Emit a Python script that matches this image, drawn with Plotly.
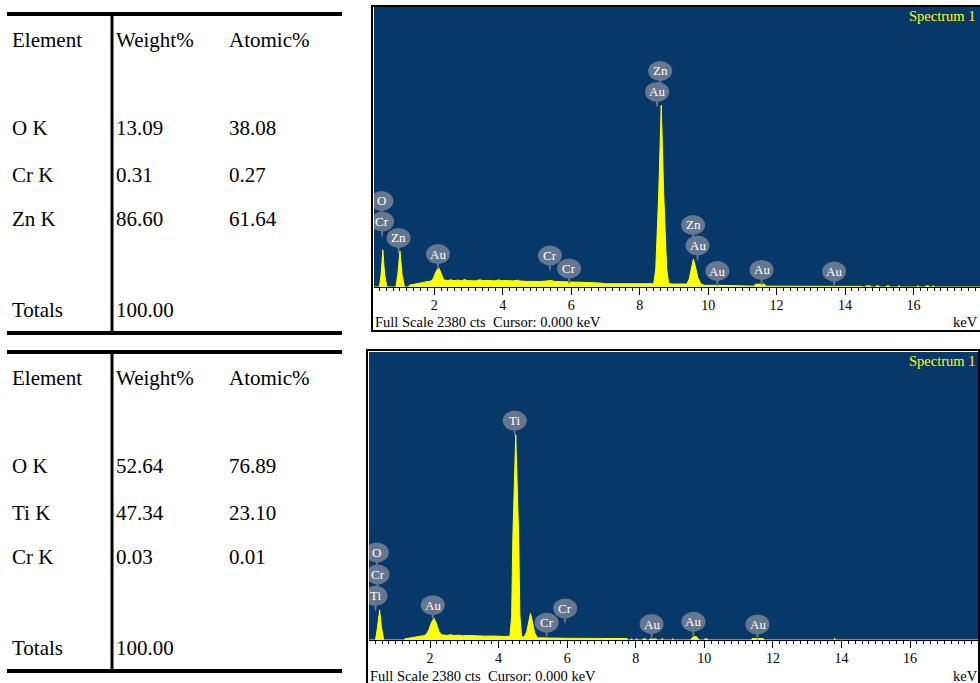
import plotly.graph_objects as go

W, H = 980, 683

# ---------------- Table data ----------------
table_headers = ["Element", "Weight%", "Atomic%"]
t1_elements = ["O K", "Cr K", "Zn K"]
t1_weight = ["13.09", "0.31", "86.60"]
t1_atomic = ["38.08", "0.27", "61.64"]
t1_total = "100.00"

t2_elements = ["O K", "Ti K", "Cr K"]
t2_weight = ["52.64", "47.34", "0.03"]
t2_atomic = ["76.89", "23.10", "0.01"]
t2_total = "100.00"

# ---------------- Spectrum 1 (ZnO sample) ----------------
s1_kev = [0.245, 0.40, 0.45, 0.50, 0.55, 0.62, 0.88, 0.94, 1.00, 1.06, 1.13,
          1.26, 1.27, 1.40, 1.50, 1.60, 1.70, 1.80, 1.90, 1.97, 2.05, 2.13, 2.20,
          2.28, 2.40, 2.50, 2.55, 2.70, 2.80, 2.90, 2.95, 3.10, 3.20, 3.35, 3.40,
          3.60, 3.75, 3.90, 3.95, 4.10, 4.30, 4.45, 4.50, 4.70, 4.90, 5.10, 5.30,
          5.40, 5.50, 5.70, 5.90, 6.00, 6.20, 6.40, 6.60, 6.80, 7.00, 7.40, 7.80,
          8.20, 8.41, 8.47, 8.555, 8.63, 8.705, 8.79, 8.85, 9.00, 9.20,
          9.38, 9.45, 9.51, 9.57, 9.63, 9.70, 9.78, 9.88, 10.30, 10.70, 10.72,
          11.35, 11.38, 11.65, 11.68, 12.20, 12.22, 14.50, 14.52, 17.96]
s1_cts = [0, 0, 110, 315, 110, 0, 0, 110, 306, 110, 0,
          0, 15, 20, 26, 34, 40, 44, 50, 70, 130, 168, 120,
          60, 55, 62, 54, 58, 53, 64, 55, 57, 52, 62, 54,
          56, 52, 60, 53, 55, 52, 58, 51, 48, 47, 46, 52,
          56, 48, 44, 46, 42, 41, 40, 36, 35, 28, 27, 26,
          26, 28, 150, 773, 1545, 773, 150, 28, 25, 25,
          26, 70, 170, 238, 170, 80, 30, 14, 14, 13, 7,
          7, 24, 24, 7, 7, 5, 5, 0, 0]
s1_dots_kev = [14.6, 14.75, None, 14.9, 15.0, None, 15.2, 15.3, None, 15.55, 15.6,
               None, 16.1, 16.15, None, 16.35, 16.45, None, 16.55, 16.6]
s1_dots_cts = [5, 5, None, 5, 5, None, 5, 5, None, 5, 5,
               None, 5, 5, None, 5, 5, None, 5, 5]

s1_label_text = ["O", "Cr", "Zn", "Au", "Cr", "Cr", "Zn", "Au", "Zn", "Au", "Au", "Au", "Au"]
s1_label_kev = [0.46, 0.48, 0.96, 2.11, 5.38, 5.94, 8.60, 8.51, 9.56, 9.69, 10.27, 11.56, 13.68]
s1_label_cts = [731, 557, 417, 280, 268, 157, 1836, 1658, 527, 353, 136, 145, 132]

# ---------------- Spectrum 2 (TiO2 sample) ----------------
s2_kev = [0.22, 0.41, 0.47, 0.53, 0.58, 0.65, 1.25, 1.27, 1.40, 1.55, 1.70,
          1.80, 1.88, 1.96, 2.05, 2.12, 2.18, 2.26, 2.35, 2.50, 2.60, 2.70,
          2.85, 2.95, 3.10, 3.30, 3.45, 3.60, 3.80, 4.00, 4.20, 4.33, 4.38,
          4.415, 4.50, 4.585, 4.62, 4.67, 4.75, 4.82, 4.88, 4.93, 4.98, 5.05,
          5.13, 5.40, 6.00, 7.00, 7.75, 7.77, 8.40, 8.41, 8.60, 8.61, 9.60,
          9.62, 9.68, 9.76, 9.83, 9.86, 11.38, 11.39, 11.72, 11.73, 17.98]
s2_cts = [0, 0, 110, 247, 110, 0, 0, 10, 16, 22, 28,
          35, 42, 80, 150, 179, 140, 70, 42, 38, 44, 36,
          40, 35, 38, 34, 37, 32, 33, 30, 29, 32, 200,
          848, 1695, 848, 200, 28, 25, 70, 170, 220, 160, 60,
          18, 15, 14, 13, 12, 0, 0, 8, 8, 0, 0,
          10, 28, 28, 10, 0, 0, 12, 12, 0, 0]
s2_dots_kev = [7.85, 7.9, None, 8.0, 8.05, None, 8.2, 8.3, None, 8.75, 8.8,
               None, 9.05, 9.1, None, 10.0, 10.1, None, 13.78, 13.82]
s2_dots_cts = [5, 5, None, 5, 5, None, 5, 5, None, 5, 5,
               None, 5, 5, None, 5, 5, None, 8, 8]

s2_label_text = ["Ti", "O", "Cr", "Ti", "Au", "Cr", "Cr", "Au", "Au", "Au"]
s2_label_kev = [4.47, 0.45, 0.47, 0.41, 2.08, 5.94, 5.40, 8.46, 9.68, 11.55]
s2_label_cts = [1813, 723, 541, 365, 288, 261, 143, 132, 151, 129]

full_scale = 2380
tick_vals = [2, 4, 6, 8, 10, 12, 14, 16]
tick_text = ["2", "4", "6", "8", "10", "12", "14", "16"]
footer_text = "Full Scale 2380 cts \u00a0Cursor: 0.000 keV"

# ---------------- Styling ----------------
BLUE = "#06386a"
YELLOW = "#ffff00"
BALLOON = "#66768f"
SERIF = "Liberation Serif, Times New Roman, serif"


def pxx(x):
    return x / W


def pxy(y):
    return 1 - y / H


panels = [
    dict(xa="x", ya="y", dom_x=(374, 980), dom_y=(7, 287), rng=(0.242, 17.94),
         frame=(372, 6, 990, 331), kev=s1_kev, cts=s1_cts, dk=s1_dots_kev, dc=s1_dots_cts,
         lt=s1_label_text, lk=s1_label_kev, lc=s1_label_cts, footer_y=322, spec_y=16),
    dict(xa="x2", ya="y2", dom_x=(369, 978), dom_y=(352, 640), rng=(0.22, 17.98),
         frame=(367, 350, 979, 700), kev=s2_kev, cts=s2_cts, dk=s2_dots_kev, dc=s2_dots_cts,
         lt=s2_label_text, lk=s2_label_kev, lc=s2_label_cts, footer_y=676, spec_y=361),
]

fig = go.Figure()
shapes = []
annotations = []

for i, p in enumerate(panels):
    fig.add_trace(go.Scatter(
        x=p["kev"], y=p["cts"], xaxis=p["xa"], yaxis=p["ya"],
        mode="lines", line=dict(color=YELLOW, width=1),
        fill="tozeroy", fillcolor=YELLOW, hoverinfo="skip", showlegend=False))
    fig.add_trace(go.Scatter(
        x=p["dk"], y=p["dc"], xaxis=p["xa"], yaxis=p["ya"],
        mode="lines", line=dict(color=YELLOW, width=2),
        hoverinfo="skip", showlegend=False, connectgaps=False))

    axname = "xaxis" if i == 0 else "xaxis2"
    ayname = "yaxis" if i == 0 else "yaxis2"
    fig.update_layout(**{
        axname: dict(
            domain=[pxx(p["dom_x"][0]), pxx(p["dom_x"][1])],
            anchor=p["ya"], range=list(p["rng"]),
            showline=True, linecolor="black", linewidth=1,
            ticks="outside", ticklen=7, tickwidth=1, tickcolor="black",
            tickvals=tick_vals, ticktext=tick_text,
            tickfont=dict(family=SERIF, size=14, color="black"),
            ticklabelstandoff=-2,
            showgrid=False, zeroline=False, fixedrange=True,
            minor=dict(ticks="outside", ticklen=3, tickwidth=1, tickcolor="black",
                       dtick=0.2, tick0=0, showgrid=False),
        ),
        ayname: dict(
            domain=[pxy(p["dom_y"][1]), pxy(p["dom_y"][0])],
            anchor=p["xa"], range=[0, full_scale], visible=False,
            showgrid=False, zeroline=False, fixedrange=True,
        ),
    })

    # outer frame
    fx0, fy0, fx1, fy1 = p["frame"]
    shapes.append(dict(type="rect", xref="paper", yref="paper",
                       x0=pxx(fx0), x1=pxx(fx1), y0=pxy(fy1), y1=pxy(fy0),
                       line=dict(color="black", width=2), fillcolor="rgba(0,0,0,0)",
                       layer="above"))

    # peak label balloons
    for t, k, c in zip(p["lt"], p["lk"], p["lc"]):
        shapes.append(dict(type="path", xref=p["xa"], yref=p["ya"],
                           xsizemode="pixel", ysizemode="pixel", xanchor=k, yanchor=c,
                           path="M -1.5 -7 L 1.5 -7 L 0.6 -15 L -0.6 -15 Z",
                           fillcolor=BALLOON, line=dict(width=0), layer="above"))
        shapes.append(dict(type="circle", xref=p["xa"], yref=p["ya"],
                           xsizemode="pixel", ysizemode="pixel", xanchor=k, yanchor=c,
                           x0=-12, x1=12, y0=-10, y1=10,
                           fillcolor=BALLOON, line=dict(width=0), layer="above"))
        annotations.append(dict(x=k, y=c, xref=p["xa"], yref=p["ya"], text=t,
                                showarrow=False, xanchor="center", yanchor="middle",
                                font=dict(family=SERIF, size=13, color="white")))

    # texts
    annotations.append(dict(x=pxx(977), y=pxy(p["spec_y"]), xref="paper", yref="paper",
                            text="Spectrum 1", showarrow=False, xanchor="right", yanchor="middle",
                            font=dict(family=SERIF, size=14.5, color=YELLOW)))
    annotations.append(dict(x=pxx(fx0 + 1), y=pxy(p["footer_y"]), xref="paper", yref="paper",
                            text=footer_text, showarrow=False, xanchor="left", yanchor="middle",
                            font=dict(family=SERIF, size=14.5, color="black")))
    annotations.append(dict(x=pxx(980), y=pxy(p["footer_y"]), xref="paper", yref="paper",
                            text="keV", showarrow=False, xanchor="right", yanchor="middle",
                            font=dict(family=SERIF, size=14.5, color="black")))

# ---------------- Tables ----------------
tables = [
    dict(top=14, bottom=333, elements=t1_elements, weight=t1_weight, atomic=t1_atomic, total=t1_total),
    dict(top=352, bottom=671, elements=t2_elements, weight=t2_weight, atomic=t2_atomic, total=t2_total),
]
col_x = [10, 114, 227]
row_offsets = [26, 114, 161, 205, 296]
TFONT = dict(family=SERIF, size=21, color="black")

for tb in tables:
    for yy in (tb["top"], tb["bottom"]):
        shapes.append(dict(type="line", xref="paper", yref="paper",
                           x0=pxx(7), x1=pxx(342), y0=pxy(yy), y1=pxy(yy),
                           line=dict(color="black", width=4)))
    shapes.append(dict(type="line", xref="paper", yref="paper",
                       x0=pxx(112), x1=pxx(112), y0=pxy(tb["top"]), y1=pxy(tb["bottom"]),
                       line=dict(color="black", width=3)))
    rows = [table_headers] + [[e, w, a] for e, w, a in zip(tb["elements"], tb["weight"], tb["atomic"])] \
        + [["Totals", tb["total"], ""]]
    for r, row in enumerate(rows):
        for c, txt in enumerate(row):
            if not txt:
                continue
            annotations.append(dict(x=pxx(col_x[c]), y=pxy(tb["top"] + row_offsets[r]),
                                    xref="paper", yref="paper", text=txt, showarrow=False,
                                    xanchor="left", yanchor="middle", font=TFONT))

fig.update_layout(
    width=W, height=H, margin=dict(l=0, r=0, t=0, b=0),
    paper_bgcolor="white", plot_bgcolor=BLUE,
    shapes=shapes, annotations=annotations, showlegend=False,
)

fig.write_html("out.html", config={"displayModeBar": False},
               post_script="document.body.style.margin='0';document.body.style.padding='0';")
